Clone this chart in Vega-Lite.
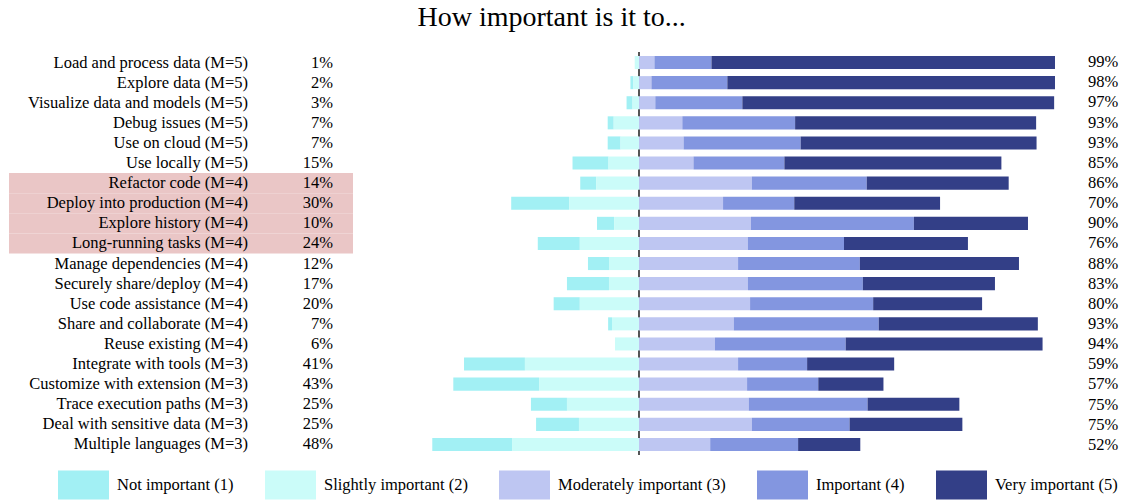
{
  "$schema": "https://vega.github.io/schema/vega-lite/v6.json",
  "padding": {"left": 9, "top": 4, "right": 0, "bottom": 0},
  "background": "white",
  "config": {
    "font": "Liberation Serif",
    "view": {"stroke": null},
    "concat": {"spacing": 0}
  },
  "title": {
    "text": "How important is it to...",
    "font": "Liberation Serif",
    "fontSize": 28,
    "fontWeight": "normal",
    "color": "black",
    "anchor": "middle",
    "offset": 19,
    "dx": -12
  },
  "datasets": {
    "tasks": [
      {"task": "Load and process data (M=5)", "negative": 0.01, "positive": 0.99, "highlighted": false},
      {"task": "Explore data (M=5)", "negative": 0.02, "positive": 0.98, "highlighted": false},
      {"task": "Visualize data and models (M=5)", "negative": 0.03, "positive": 0.97, "highlighted": false},
      {"task": "Debug issues (M=5)", "negative": 0.07, "positive": 0.93, "highlighted": false},
      {"task": "Use on cloud (M=5)", "negative": 0.07, "positive": 0.93, "highlighted": false},
      {"task": "Use locally (M=5)", "negative": 0.15, "positive": 0.85, "highlighted": false},
      {"task": "Refactor code (M=4)", "negative": 0.14, "positive": 0.86, "highlighted": true},
      {"task": "Deploy into production (M=4)", "negative": 0.30, "positive": 0.70, "highlighted": true},
      {"task": "Explore history (M=4)", "negative": 0.10, "positive": 0.90, "highlighted": true},
      {"task": "Long-running tasks (M=4)", "negative": 0.24, "positive": 0.76, "highlighted": true},
      {"task": "Manage dependencies (M=4)", "negative": 0.12, "positive": 0.88, "highlighted": false},
      {"task": "Securely share/deploy (M=4)", "negative": 0.17, "positive": 0.83, "highlighted": false},
      {"task": "Use code assistance (M=4)", "negative": 0.20, "positive": 0.80, "highlighted": false},
      {"task": "Share and collaborate (M=4)", "negative": 0.07, "positive": 0.93, "highlighted": false},
      {"task": "Reuse existing (M=4)", "negative": 0.06, "positive": 0.94, "highlighted": false},
      {"task": "Integrate with tools (M=3)", "negative": 0.41, "positive": 0.59, "highlighted": false},
      {"task": "Customize with extension (M=3)", "negative": 0.43, "positive": 0.57, "highlighted": false},
      {"task": "Trace execution paths (M=3)", "negative": 0.25, "positive": 0.75, "highlighted": false},
      {"task": "Deal with sensitive data (M=3)", "negative": 0.25, "positive": 0.75, "highlighted": false},
      {"task": "Multiple languages (M=3)", "negative": 0.48, "positive": 0.52, "highlighted": false}
    ],
    "segments": [
      {"task": "Load and process data (M=5)", "score": 1, "level": "Not important (1)", "pct": 0},
      {"task": "Load and process data (M=5)", "score": 2, "level": "Slightly important (2)", "pct": -1.0},
      {"task": "Load and process data (M=5)", "score": 3, "level": "Moderately important (3)", "pct": 3.6},
      {"task": "Load and process data (M=5)", "score": 4, "level": "Important (4)", "pct": 13.3},
      {"task": "Load and process data (M=5)", "score": 5, "level": "Very important (5)", "pct": 82.1},
      {"task": "Explore data (M=5)", "score": 1, "level": "Not important (1)", "pct": -0.7},
      {"task": "Explore data (M=5)", "score": 2, "level": "Slightly important (2)", "pct": -1.3},
      {"task": "Explore data (M=5)", "score": 3, "level": "Moderately important (3)", "pct": 2.9},
      {"task": "Explore data (M=5)", "score": 4, "level": "Important (4)", "pct": 17.7},
      {"task": "Explore data (M=5)", "score": 5, "level": "Very important (5)", "pct": 77.4},
      {"task": "Visualize data and models (M=5)", "score": 1, "level": "Not important (1)", "pct": -1.4},
      {"task": "Visualize data and models (M=5)", "score": 2, "level": "Slightly important (2)", "pct": -1.5},
      {"task": "Visualize data and models (M=5)", "score": 3, "level": "Moderately important (3)", "pct": 3.8},
      {"task": "Visualize data and models (M=5)", "score": 4, "level": "Important (4)", "pct": 20.3},
      {"task": "Visualize data and models (M=5)", "score": 5, "level": "Very important (5)", "pct": 72.7},
      {"task": "Debug issues (M=5)", "score": 1, "level": "Not important (1)", "pct": -1.4},
      {"task": "Debug issues (M=5)", "score": 2, "level": "Slightly important (2)", "pct": -5.9},
      {"task": "Debug issues (M=5)", "score": 3, "level": "Moderately important (3)", "pct": 10.1},
      {"task": "Debug issues (M=5)", "score": 4, "level": "Important (4)", "pct": 26.3},
      {"task": "Debug issues (M=5)", "score": 5, "level": "Very important (5)", "pct": 56.2},
      {"task": "Use on cloud (M=5)", "score": 1, "level": "Not important (1)", "pct": -3.0},
      {"task": "Use on cloud (M=5)", "score": 2, "level": "Slightly important (2)", "pct": -4.3},
      {"task": "Use on cloud (M=5)", "score": 3, "level": "Moderately important (3)", "pct": 10.4},
      {"task": "Use on cloud (M=5)", "score": 4, "level": "Important (4)", "pct": 27.3},
      {"task": "Use on cloud (M=5)", "score": 5, "level": "Very important (5)", "pct": 55.0},
      {"task": "Use locally (M=5)", "score": 1, "level": "Not important (1)", "pct": -8.4},
      {"task": "Use locally (M=5)", "score": 2, "level": "Slightly important (2)", "pct": -7.1},
      {"task": "Use locally (M=5)", "score": 3, "level": "Moderately important (3)", "pct": 12.7},
      {"task": "Use locally (M=5)", "score": 4, "level": "Important (4)", "pct": 21.2},
      {"task": "Use locally (M=5)", "score": 5, "level": "Very important (5)", "pct": 50.6},
      {"task": "Refactor code (M=4)", "score": 1, "level": "Not important (1)", "pct": -3.7},
      {"task": "Refactor code (M=4)", "score": 2, "level": "Slightly important (2)", "pct": -10.0},
      {"task": "Refactor code (M=4)", "score": 3, "level": "Moderately important (3)", "pct": 26.3},
      {"task": "Refactor code (M=4)", "score": 4, "level": "Important (4)", "pct": 26.8},
      {"task": "Refactor code (M=4)", "score": 5, "level": "Very important (5)", "pct": 33.1},
      {"task": "Deploy into production (M=4)", "score": 1, "level": "Not important (1)", "pct": -13.5},
      {"task": "Deploy into production (M=4)", "score": 2, "level": "Slightly important (2)", "pct": -16.3},
      {"task": "Deploy into production (M=4)", "score": 3, "level": "Moderately important (3)", "pct": 19.6},
      {"task": "Deploy into production (M=4)", "score": 4, "level": "Important (4)", "pct": 16.6},
      {"task": "Deploy into production (M=4)", "score": 5, "level": "Very important (5)", "pct": 34.0},
      {"task": "Explore history (M=4)", "score": 1, "level": "Not important (1)", "pct": -4.0},
      {"task": "Explore history (M=4)", "score": 2, "level": "Slightly important (2)", "pct": -5.8},
      {"task": "Explore history (M=4)", "score": 3, "level": "Moderately important (3)", "pct": 26.1},
      {"task": "Explore history (M=4)", "score": 4, "level": "Important (4)", "pct": 38.0},
      {"task": "Explore history (M=4)", "score": 5, "level": "Very important (5)", "pct": 26.6},
      {"task": "Long-running tasks (M=4)", "score": 1, "level": "Not important (1)", "pct": -9.8},
      {"task": "Long-running tasks (M=4)", "score": 2, "level": "Slightly important (2)", "pct": -13.8},
      {"task": "Long-running tasks (M=4)", "score": 3, "level": "Moderately important (3)", "pct": 25.4},
      {"task": "Long-running tasks (M=4)", "score": 4, "level": "Important (4)", "pct": 22.4},
      {"task": "Long-running tasks (M=4)", "score": 5, "level": "Very important (5)", "pct": 28.9},
      {"task": "Manage dependencies (M=4)", "score": 1, "level": "Not important (1)", "pct": -4.9},
      {"task": "Manage dependencies (M=4)", "score": 2, "level": "Slightly important (2)", "pct": -7.0},
      {"task": "Manage dependencies (M=4)", "score": 3, "level": "Moderately important (3)", "pct": 23.1},
      {"task": "Manage dependencies (M=4)", "score": 4, "level": "Important (4)", "pct": 28.4},
      {"task": "Manage dependencies (M=4)", "score": 5, "level": "Very important (5)", "pct": 37.1},
      {"task": "Securely share/deploy (M=4)", "score": 1, "level": "Not important (1)", "pct": -9.8},
      {"task": "Securely share/deploy (M=4)", "score": 2, "level": "Slightly important (2)", "pct": -7.0},
      {"task": "Securely share/deploy (M=4)", "score": 3, "level": "Moderately important (3)", "pct": 25.4},
      {"task": "Securely share/deploy (M=4)", "score": 4, "level": "Important (4)", "pct": 26.8},
      {"task": "Securely share/deploy (M=4)", "score": 5, "level": "Very important (5)", "pct": 30.8},
      {"task": "Use code assistance (M=4)", "score": 1, "level": "Not important (1)", "pct": -6.1},
      {"task": "Use code assistance (M=4)", "score": 2, "level": "Slightly important (2)", "pct": -13.8},
      {"task": "Use code assistance (M=4)", "score": 3, "level": "Moderately important (3)", "pct": 25.9},
      {"task": "Use code assistance (M=4)", "score": 4, "level": "Important (4)", "pct": 28.7},
      {"task": "Use code assistance (M=4)", "score": 5, "level": "Very important (5)", "pct": 25.4},
      {"task": "Share and collaborate (M=4)", "score": 1, "level": "Not important (1)", "pct": -0.9},
      {"task": "Share and collaborate (M=4)", "score": 2, "level": "Slightly important (2)", "pct": -6.3},
      {"task": "Share and collaborate (M=4)", "score": 3, "level": "Moderately important (3)", "pct": 22.1},
      {"task": "Share and collaborate (M=4)", "score": 4, "level": "Important (4)", "pct": 33.8},
      {"task": "Share and collaborate (M=4)", "score": 5, "level": "Very important (5)", "pct": 37.1},
      {"task": "Reuse existing (M=4)", "score": 1, "level": "Not important (1)", "pct": 0},
      {"task": "Reuse existing (M=4)", "score": 2, "level": "Slightly important (2)", "pct": -5.6},
      {"task": "Reuse existing (M=4)", "score": 3, "level": "Moderately important (3)", "pct": 17.7},
      {"task": "Reuse existing (M=4)", "score": 4, "level": "Important (4)", "pct": 30.5},
      {"task": "Reuse existing (M=4)", "score": 5, "level": "Very important (5)", "pct": 45.9},
      {"task": "Integrate with tools (M=3)", "score": 1, "level": "Not important (1)", "pct": -14.2},
      {"task": "Integrate with tools (M=3)", "score": 2, "level": "Slightly important (2)", "pct": -26.6},
      {"task": "Integrate with tools (M=3)", "score": 3, "level": "Moderately important (3)", "pct": 23.1},
      {"task": "Integrate with tools (M=3)", "score": 4, "level": "Important (4)", "pct": 16.1},
      {"task": "Integrate with tools (M=3)", "score": 5, "level": "Very important (5)", "pct": 20.3},
      {"task": "Customize with extension (M=3)", "score": 1, "level": "Not important (1)", "pct": -20.0},
      {"task": "Customize with extension (M=3)", "score": 2, "level": "Slightly important (2)", "pct": -23.3},
      {"task": "Customize with extension (M=3)", "score": 3, "level": "Moderately important (3)", "pct": 25.2},
      {"task": "Customize with extension (M=3)", "score": 4, "level": "Important (4)", "pct": 16.6},
      {"task": "Customize with extension (M=3)", "score": 5, "level": "Very important (5)", "pct": 15.2},
      {"task": "Trace execution paths (M=3)", "score": 1, "level": "Not important (1)", "pct": -8.4},
      {"task": "Trace execution paths (M=3)", "score": 2, "level": "Slightly important (2)", "pct": -16.8},
      {"task": "Trace execution paths (M=3)", "score": 3, "level": "Moderately important (3)", "pct": 25.6},
      {"task": "Trace execution paths (M=3)", "score": 4, "level": "Important (4)", "pct": 27.7},
      {"task": "Trace execution paths (M=3)", "score": 5, "level": "Very important (5)", "pct": 21.4},
      {"task": "Deal with sensitive data (M=3)", "score": 1, "level": "Not important (1)", "pct": -10.0},
      {"task": "Deal with sensitive data (M=3)", "score": 2, "level": "Slightly important (2)", "pct": -14.0},
      {"task": "Deal with sensitive data (M=3)", "score": 3, "level": "Moderately important (3)", "pct": 26.3},
      {"task": "Deal with sensitive data (M=3)", "score": 4, "level": "Important (4)", "pct": 22.8},
      {"task": "Deal with sensitive data (M=3)", "score": 5, "level": "Very important (5)", "pct": 26.3},
      {"task": "Multiple languages (M=3)", "score": 1, "level": "Not important (1)", "pct": -18.6},
      {"task": "Multiple languages (M=3)", "score": 2, "level": "Slightly important (2)", "pct": -29.6},
      {"task": "Multiple languages (M=3)", "score": 3, "level": "Moderately important (3)", "pct": 16.6},
      {"task": "Multiple languages (M=3)", "score": 4, "level": "Important (4)", "pct": 20.5},
      {"task": "Multiple languages (M=3)", "score": 5, "level": "Very important (5)", "pct": 14.5}
    ]
  },
  "spacing": 0,
  "hconcat": [
    {
      "width": 422,
      "height": 403,
      "data": {"name": "tasks"},
      "encoding": {
        "y": {"field": "task", "type": "nominal", "sort": null, "axis": null, "scale": {"paddingInner": 0, "paddingOuter": 0.025}}
      },
      "layer": [
        {
          "mark": {"type": "rect"},
          "encoding": {
            "x": {"value": 0},
            "x2": {"value": 344},
            "fill": {"condition": {"test": "datum.highlighted", "value": "#eac6c6"}, "value": "transparent"}
          }
        },
        {
          "mark": {"type": "text", "align": "right", "baseline": "middle", "fontSize": 16.5, "color": "black", "font": "Liberation Serif"},
          "encoding": {"x": {"value": 239}, "text": {"field": "task"}}
        },
        {
          "mark": {"type": "text", "align": "right", "baseline": "middle", "fontSize": 16.5, "color": "black", "font": "Liberation Serif"},
          "encoding": {"x": {"value": 324}, "text": {"field": "negative", "format": ".0%"}}
        }
      ]
    },
    {
      "width": 624,
      "height": 403,
      "layer": [
        {
          "data": {"values": [{"zero": 0}]},
          "mark": {"type": "rule", "color": "#555555", "strokeWidth": 2},
          "encoding": {"x": {"field": "zero", "type": "quantitative", "scale": {"domain": [-48.5, 97], "nice": false, "zero": false}, "axis": null}}
        },
        {
          "data": {"name": "segments"},
          "transform": [{"filter": "datum.score <= 2"}],
          "mark": {"type": "bar", "clip": true},
          "encoding": {
            "y": {"field": "task", "type": "nominal", "sort": null, "axis": null, "scale": {"paddingInner": 0.35, "paddingOuter": 0.2}},
            "x": {"field": "pct", "type": "quantitative", "stack": "zero", "scale": {"domain": [-48.5, 97], "nice": false, "zero": false}, "axis": null},
            "order": {"field": "score", "sort": "descending"},
            "color": {
              "field": "level", "type": "nominal",
              "scale": {
                "domain": ["Not important (1)", "Slightly important (2)", "Moderately important (3)", "Important (4)", "Very important (5)"],
                "range": ["#a2f0f4", "#cbfcf9", "#bec6f2", "#8396e0", "#333f87"]
              },
              "legend": {
                "title": null, "orient": "none", "legendX": 49, "legendY": 407, "direction": "horizontal", "columns": 5,
                "columnPadding": 31, "symbolType": "M-1,-0.569H1V0.569H-1Z", "symbolSize": 2601, "symbolStrokeWidth": 0,
                "symbolOpacity": 1, "labelFont": "Liberation Serif", "labelFontSize": 16.5, "labelColor": "black",
                "labelOffset": 8, "padding": 0, "labelLimit": 0
              }
            }
          }
        },
        {
          "data": {"name": "segments"},
          "transform": [{"filter": "datum.score >= 3"}],
          "mark": {"type": "bar", "clip": true},
          "encoding": {
            "y": {"field": "task", "type": "nominal", "sort": null, "axis": null, "scale": {"paddingInner": 0.35, "paddingOuter": 0.2}},
            "x": {"field": "pct", "type": "quantitative", "stack": "zero", "scale": {"domain": [-48.5, 97], "nice": false, "zero": false}, "axis": null},
            "order": {"field": "score", "sort": "ascending"},
            "color": {
              "field": "level", "type": "nominal",
              "scale": {
                "domain": ["Not important (1)", "Slightly important (2)", "Moderately important (3)", "Important (4)", "Very important (5)"],
                "range": ["#a2f0f4", "#cbfcf9", "#bec6f2", "#8396e0", "#333f87"]
              },
              "legend": {
                "title": null, "orient": "none", "legendX": 49, "legendY": 407, "direction": "horizontal", "columns": 5,
                "columnPadding": 31, "symbolType": "M-1,-0.569H1V0.569H-1Z", "symbolSize": 2601, "symbolStrokeWidth": 0,
                "symbolOpacity": 1, "labelFont": "Liberation Serif", "labelFontSize": 16.5, "labelColor": "black",
                "labelOffset": 8, "padding": 0, "labelLimit": 0
              }
            }
          }
        }
      ]
    },
    {
      "width": 40,
      "height": 403,
      "data": {"name": "tasks"},
      "mark": {"type": "text", "align": "left", "baseline": "middle", "fontSize": 16.5, "color": "black", "font": "Liberation Serif"},
      "encoding": {
        "y": {"field": "task", "type": "nominal", "sort": null, "axis": null, "scale": {"paddingInner": 0, "paddingOuter": 0.025}},
        "x": {"value": 33},
        "text": {"field": "positive", "format": ".0%"}
      }
    }
  ],
  "resolve": {"scale": {"y": "independent"}}
}
